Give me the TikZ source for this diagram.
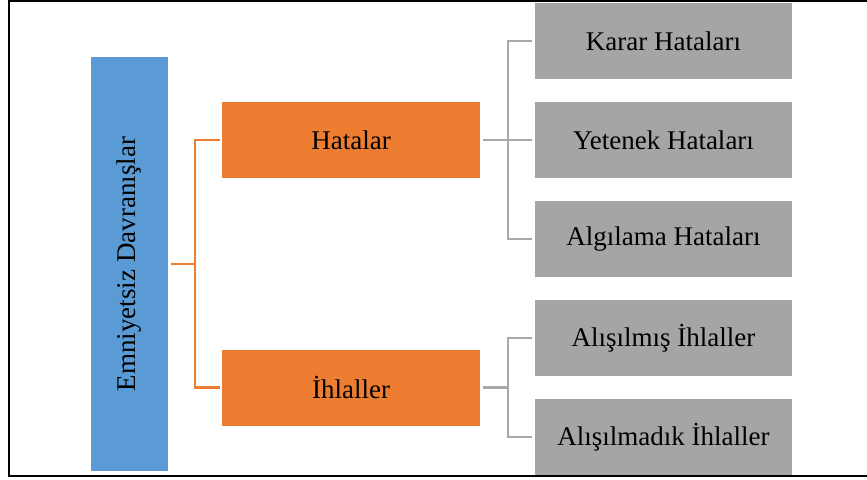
\documentclass[tikz,border=0pt]{standalone}
\usepackage{fontspec}
\setmainfont{Liberation Serif}
\begin{document}
\begin{tikzpicture}[x=1pt,y=-1pt,
  box/.style={draw=none,inner sep=0pt,font=\fontsize{27}{31}\selectfont,text=black},
  rootbox/.style={box,fill=rootblue,minimum width=77pt,minimum height=414pt},
  midbox/.style={box,fill=midorange,minimum width=258pt,minimum height=76pt},
  leafbox/.style={box,fill=leafgray,minimum width=257pt,minimum height=76pt},
  oline/.style={draw=midorange,line width=2.5pt},
  gline/.style={draw=linegray,line width=2.5pt}]
\definecolor{rootblue}{HTML}{5B9BD5}
\definecolor{midorange}{HTML}{ED7D31}
\definecolor{leafgray}{HTML}{A5A5A5}
\definecolor{linegray}{HTML}{A8A8A8}
\useasboundingbox (0,0) rectangle (867,479);
% outer frame
\draw[line width=2.4pt] (9,1) rectangle (880,476);
% root
\node[rootbox] (root) at (129.5,264) {};
\node[box,rotate=90] (roottext) at (root.center) {Emniyetsiz Davranışlar};
% second level
\node[midbox] (hat) at (351,140) {Hatalar};
\node[midbox] (ihl) at (351,387.5) {İhlaller};
% leaves
\node[leafbox] (karar) at (663.5,41) {Karar Hataları};
\node[leafbox] (yet) at (663.5,140) {Yetenek Hataları};
\node[leafbox] (alg) at (663.5,239) {Algılama Hataları};
\node[leafbox] (alis) at (663.5,338) {Alışılmış İhlaller};
\node[leafbox] (alisd) at (663.5,437) {Alışılmadık İhlaller};
% connectors
\coordinate (oj) at (195,264);
\draw[oline,shorten <=3pt] (root.east) -- (oj);
\draw[oline,shorten <=2pt] (hat.west) -| (oj);
\draw[oline,shorten <=2pt] (ihl.west) -| (oj);
\coordinate (gj1) at (508,140);
\draw[gline,shorten <=3pt] (hat.east) -- (gj1);
\draw[gline,shorten <=3pt] (karar.west) -| (gj1);
\draw[gline,shorten <=3pt] (yet.west) -- (gj1);
\draw[gline,shorten <=3pt] (alg.west) -| (gj1);
\coordinate (gj2) at (508,387.5);
\draw[gline,shorten <=3pt] (ihl.east) -- (gj2);
\draw[gline,shorten <=3pt] (alis.west) -| (gj2);
\draw[gline,shorten <=3pt] (alisd.west) -| (gj2);
\end{tikzpicture}
\end{document}
